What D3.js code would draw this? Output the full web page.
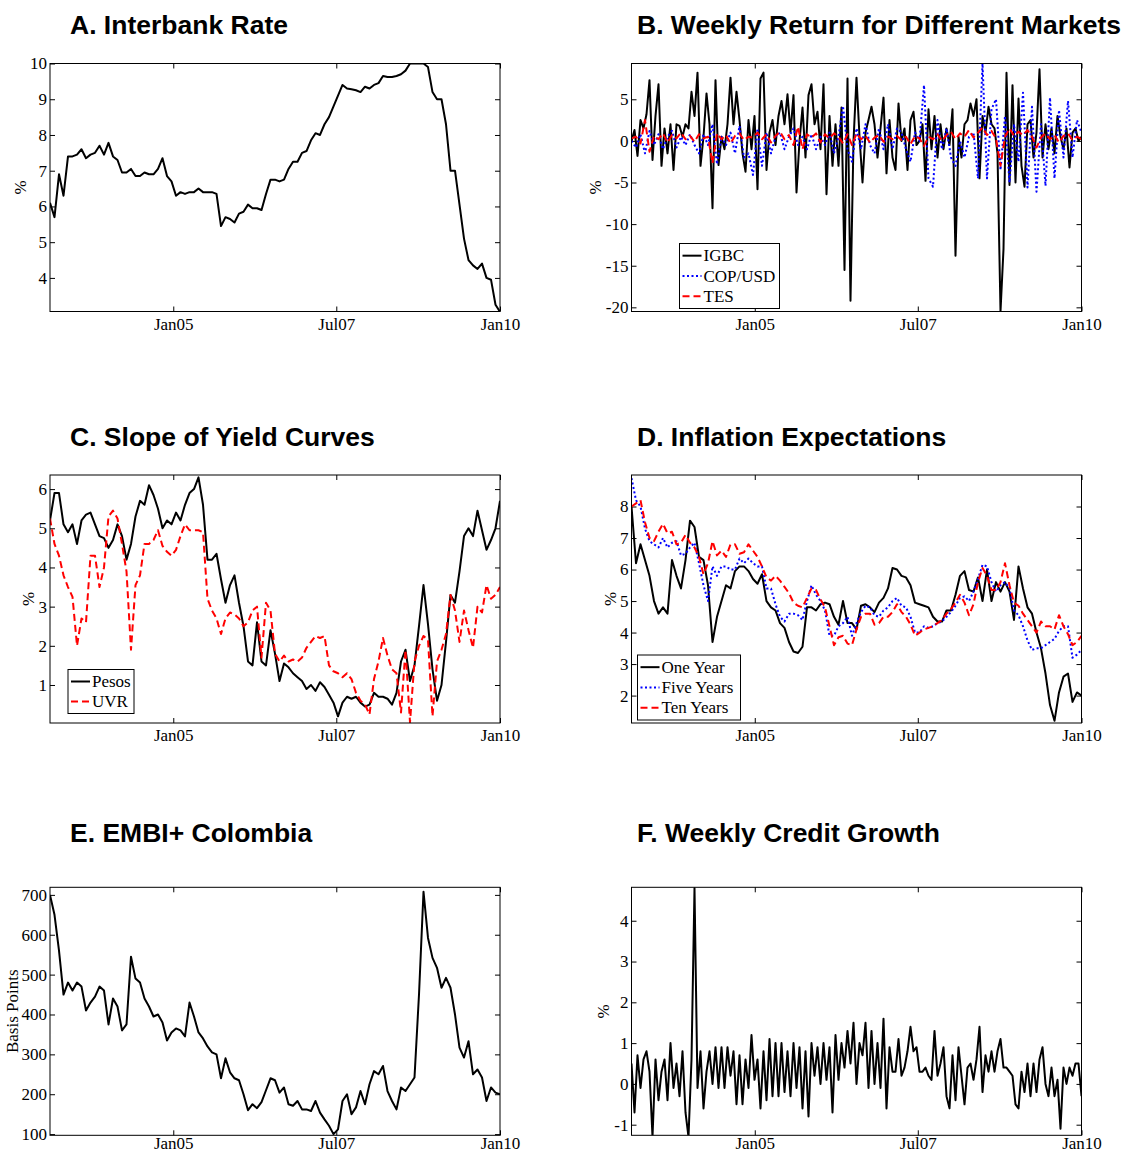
<!DOCTYPE html>
<html>
<head>
<meta charset="utf-8">
<script src="https://cdn.jsdelivr.net/npm/d3@7"></script>
<style>
  body { margin: 0; background: #fff; }
  svg { display: block; }
  .title { font-family: "Liberation Sans", Arial, sans-serif; font-weight: bold; font-size: 26.5px; }
  .lab { font-family: "Liberation Serif", "Times New Roman", serif; font-size: 17px; }
</style>
</head>
<body>
<div id="chart"></div>
<script>
// weekly series, first point at startDate, last at endDate, evenly spaced
var startDate = new Date(2003, 1, 12),
    endDate = new Date(2010, 0, 1);
var dateTicks = [new Date(2005, 0, 1), new Date(2007, 6, 1), new Date(2010, 0, 1)];

// A. Interbank rate (%)
var interbankRate = [6.1,5.7,6.9,6.3,7.4,7.4,7.45,7.6,7.35,7.45,
  7.5,7.7,7.45,7.78,7.4,7.3,6.95,6.95,7.05,6.85,
  6.85,6.95,6.9,6.9,7.05,7.35,6.85,6.7,6.3,6.4,
  6.35,6.4,6.4,6.5,6.4,6.4,6.4,6.35,5.45,5.7,
  5.65,5.55,5.8,5.85,6.05,5.95,5.95,5.9,6.35,6.75,
  6.75,6.7,6.75,7.05,7.25,7.25,7.5,7.55,7.85,8.05,
  8.0,8.3,8.5,8.8,9.1,9.4,9.3,9.28,9.25,9.2,
  9.35,9.3,9.4,9.45,9.65,9.62,9.62,9.65,9.7,9.8,
  10.0,10.0,10.0,10.0,9.9,9.2,9.0,9.0,8.3,7.0,
  7.0,6.05,5.1,4.5,4.35,4.25,4.4,4.0,3.95,3.25,3.05];

// B. Weekly returns (%)
var igbc = [0,1.3,-1.8,2.5,1.5,3.2,7.3,-2.3,3,6.8,
  -3,1.5,-1.5,2,-3.5,2,1.8,0.5,2,1.5,
  5.9,3,8.2,-3,0.5,5.7,2,-8.1,7.3,-2.9,
  0.5,-1,2,7.6,2,5.9,2.5,-1.5,-3.7,2.5,
  -1,3,-5.8,7.5,8.2,-3.5,1,2.5,-0.5,3,
  4.8,2,5.6,1,5.5,-6.2,0,4,-2,5.5,
  6.8,2,3.5,-1,6.8,-6.4,3,-3,2,-3,
  4,-15.5,7.5,-19.2,0,7.6,0.5,-5,1,2.5,
  4.1,2,-2,1.5,5.2,-3.9,2.5,-2,-3.5,4.5,
  0,1.5,-3.5,2.5,3.5,-0.5,0,2,-4.8,3.8,
  -1,3,-2,2,-1,1.5,-0.5,3.8,-13.8,0.5,
  -2,2,2.5,4.5,3,5,-4.5,3,1,4.1,
  2,1.5,-1.5,-20.5,-13,8.2,-5.3,6.7,-5,5.1,
  -3,-5.5,2,2.5,-2,1,8.6,-2,2,-1,
  1.5,-1.5,3,0.5,-1,1.5,-3.2,1,1.5,0,0.5];
var copUsd = [0,-0.8,0.8,-1.5,1.2,-0.5,0.8,-1,0.5,1.2,
  -0.8,0.5,-0.5,0.8,-0.5,-1.5,0.8,-0.5,2,-2.8,
  0.5,-0.5,1,-1.5,1.8,-2,-1.5,-4.1,1.5,-3,
  1,-1.5,0.5,1,-1,0.5,1.5,-0.5,0.5,-1,
  0.8,-1,0.5,-0.5,1,-1.5,0.5,4.2,-1,-2.5,
  1.5,-1,2,-0.5,-1.5,1.5,-1,2,-1,1.5,
  1,-1,-2.5,1,0,6.7,-4.5,-5.5,2.5,-1,
  1.5,-2,-3,0,-2,0.5,1,-4.5,9.3,-4.5,
  3.8,5,-3.5,3,-5,2,-2.5,5.8,-5.6,4.1,
  -6.1,2,-5.4,5.2,-4.5,3.7,-2,4.8,-2,2.5,1];
var tes = [0.3,0.5,-0.3,2.5,-1.3,0.6,0.2,0.9,-0.2,0.7,
  0.3,1.0,0.2,0.6,-0.1,0.8,0.3,0.5,-2.7,0.9,
  0.2,0.7,-0.3,0.6,0.9,0.1,0.5,0.4,1.0,0.2,
  0.8,-0.2,0.6,1.1,0.2,0.7,-0.5,1.7,-1.0,0.8,
  0.4,0.9,-0.2,0.8,0.3,0.9,0.5,-0.3,0.8,-0.5,
  0.9,0.2,0.6,-0.2,0.4,0.7,-0.1,0.5,0.2,0.6,
  0.1,0.5,-0.4,0.6,0.3,-0.6,0.5,0.2,0.8,0.0,
  0.7,1.1,0.2,0.9,0.5,1.3,0.4,1.0,1.6,0.7,
  1.2,0.3,-3.0,0.5,1.5,0.6,1.1,0.7,1.3,0.5,
  -0.8,0.4,0.9,0.2,0.7,-0.2,0.6,0.9,0.1,0.5,0.2];

// C. Slope of yield curves (%)
var pesos = [5.2,5.9,5.9,5.1,4.9,5.1,4.6,5.2,5.35,5.4,
  5.1,4.8,4.75,4.5,4.7,5.1,4.8,4.2,4.6,5.3,
  5.7,5.6,6.1,5.85,5.5,5.0,5.2,5.1,5.4,5.2,
  5.6,5.9,6.0,6.3,5.6,4.2,4.2,4.35,3.7,3.1,
  3.55,3.8,3.1,2.5,1.6,1.5,2.6,1.6,1.5,2.4,
  1.8,1.1,1.55,1.45,1.3,1.2,1.1,0.9,1.0,0.85,
  1.07,0.95,0.75,0.55,0.2,0.55,0.7,0.65,0.7,0.55,
  0.45,0.5,0.8,0.7,0.7,0.65,0.5,0.8,1.6,1.9,
  1.1,1.5,2.5,3.55,2.55,1.4,0.6,1.0,2.1,3.3,
  3.1,3.9,4.8,5.0,4.8,5.45,4.95,4.45,4.7,5.0,5.7];
var uvr = [5.25,4.6,4.3,3.8,3.5,3.25,2.0,2.7,2.6,4.3,
  4.3,3.5,4.0,5.3,5.45,5.25,4.6,3.9,1.9,3.55,
  3.8,4.6,4.6,4.7,4.95,4.55,4.4,4.3,4.45,4.8,
  5.1,4.95,4.95,4.95,4.9,3.2,2.9,2.7,2.3,2.7,
  2.85,2.8,2.7,2.5,2.6,2.9,3.0,1.7,3.1,2.9,
  1.8,1.6,1.75,1.6,1.65,1.6,1.7,1.95,2.1,2.25,
  2.2,2.25,1.5,1.35,1.3,1.2,1.3,1.15,0.8,0.6,
  0.5,0.25,1.15,1.6,2.2,1.75,1.4,1.3,0.3,1.9,
  0.05,1.6,2.0,2.25,2.15,0.2,1.6,1.9,2.3,3.3,
  2.9,2.1,2.9,2.4,1.95,3.0,2.85,3.55,3.2,3.3,3.5];

// D. Inflation expectations (%)
var oneYear = [8.0,6.2,6.8,6.3,5.8,5.0,4.6,4.8,4.6,6.3,
  5.8,5.4,6.3,7.55,7.35,6.4,6.3,5.5,3.7,4.5,
  5.0,5.5,5.4,5.95,6.1,6.1,5.95,5.7,5.55,5.85,
  5.0,4.8,4.7,4.3,4.15,3.7,3.4,3.35,3.55,4.8,
  4.8,4.7,4.9,4.95,4.9,4.5,4.25,5.0,4.3,4.3,
  4.1,4.85,4.9,4.8,4.65,4.95,5.1,5.4,6.05,6.0,
  5.8,5.75,5.5,4.95,4.9,4.85,4.8,4.5,4.35,4.35,
  4.7,4.7,5.2,5.8,5.95,5.35,5.3,5.75,5.0,6.0,
  5.0,5.6,5.3,5.6,5.3,4.4,6.1,5.4,4.8,4.6,
  4.0,3.5,2.7,1.7,1.2,2.1,2.6,2.7,1.8,2.1,2.0];
var fiveYears = [8.9,8.2,8.0,7.3,6.9,6.8,6.7,7.0,6.7,6.85,
  6.9,6.45,6.5,6.7,6.85,6.2,5.5,5.0,6.1,5.8,
  6.1,6.1,6.0,6.0,6.35,6.2,6.35,6.2,6.1,6.1,
  5.4,5.4,4.9,4.5,4.35,4.6,4.6,4.55,4.4,5.0,
  5.5,5.2,5.0,4.7,3.9,3.9,4.2,4.3,4.5,3.9,
  4.3,4.65,4.85,4.8,4.55,4.5,4.7,4.8,5.0,5.1,
  4.85,4.8,4.5,4.0,4.0,4.2,4.15,4.2,4.3,4.35,
  4.5,4.65,4.85,5.1,5.15,5.0,5.3,5.7,6.15,6.1,
  5.6,5.3,5.5,5.6,5.4,4.7,4.55,4.2,3.75,3.45,
  3.5,3.5,3.6,3.7,3.8,4.05,4.2,4.2,3.2,3.3,3.45];
var tenYears = [8.0,8.1,8.2,7.5,7.0,6.9,7.2,7.45,7.15,7.2,
  6.8,6.85,7.1,6.85,6.7,6.4,5.85,6.2,6.9,6.45,
  6.6,6.4,6.8,6.8,6.5,6.55,6.8,6.6,6.4,6.1,
  5.75,5.65,5.8,5.65,5.45,5.25,4.95,4.85,4.8,5.1,
  5.4,5.35,5.05,4.8,4.2,3.6,3.85,3.9,3.65,3.6,
  4.1,4.5,4.6,4.6,4.25,4.3,4.5,4.5,4.65,4.9,
  4.65,4.5,4.25,3.9,4.0,4.1,4.15,4.2,4.3,4.4,
  4.6,4.75,4.95,5.2,4.95,4.55,4.9,5.6,6.05,5.8,
  5.35,5.35,5.6,6.2,5.5,4.95,4.85,4.6,4.4,4.2,
  4.0,4.35,4.2,4.2,4.1,4.55,4.2,3.95,3.6,3.7,3.9];

// E. EMBI+ Colombia (basis points)
var embi = [700,650,560,450,480,460,480,470,410,430,
  445,470,460,375,440,420,360,375,545,490,
  480,440,420,395,400,380,335,355,365,360,
  345,430,395,355,340,320,305,300,240,290,
  255,240,235,200,160,175,165,180,210,240,
  235,204,217,175,171,183,162,162,158,183,
  154,137,121,100,112,183,200,150,167,208,
  175,225,258,250,271,208,183,162,217,208,
  225,242,450,708,592,542,517,467,492,467,
  400,317,292,333,250,262,242,183,217,204,200];

// F. Weekly credit growth (%)
var credit = [0.5,-0.7,0.7,-0.1,0.6,0.8,0.3,-1.3,0.6,-0.4,
  0.3,0.6,-0.4,1.0,-0.1,0.5,-0.3,0.8,-0.7,-1.3,
  0.6,4.8,-0.1,0.8,-0.6,0.3,0.8,0.0,0.9,-0.1,
  0.9,-0.1,0.9,0.2,0.8,-0.5,0.7,-0.5,0.6,-0.1,
  1.2,0.1,0.6,-0.6,0.8,-0.4,1.1,-0.3,1.0,-0.3,
  1.0,-0.2,0.8,-0.3,1.0,-0.1,0.9,-0.6,0.8,-0.8,
  1.0,0.2,0.9,0.0,1.0,0.1,0.9,-0.7,1.2,0.1,
  1.0,0.4,1.3,0.5,1.5,0.0,1.0,0.7,1.5,-0.1,
  1.3,0.0,1.0,-0.1,1.6,-0.6,0.9,0.3,0.3,1.1,
  0.2,0.4,0.8,1.4,0.8,0.9,0.3,0.3,0.4,0.2,
  0.1,1.3,0.2,0.5,0.9,-0.3,-0.6,0.7,-0.4,0.9,
  0.2,-0.5,0.4,0.5,0.1,0.6,1.4,-0.2,0.7,0.3,
  0.8,0.3,0.8,1.1,0.4,0.4,0.3,0.2,-0.5,-0.6,
  0.3,-0.2,0.5,-0.3,0.5,-0.2,0.6,0.9,0.0,-0.3,
  0.4,-0.3,0.1,-1.1,0.4,0.0,0.4,0.2,0.5,0.5,-0.3];

var solid = {color: "#000", dash: null},
    dotted = {color: "#0000ff", dash: "2,2.5"},
    dashed = {color: "#ff0000", dash: "7,4"};

var W = 450, H = 248;

var panels = [
  {title: "A. Interbank Rate", left: 50, top: 63.5, titleX: 70, titleY: 34, yDomain: [3.06, 10],
   yTicks: [4,5,6,7,8,9,10], yLabel: "%", yLabelX: 20, xPad: 6,
   series: [{values: interbankRate, style: solid}]},
  {title: "B. Weekly Return for Different Markets", left: 631.5, top: 63.5, titleX: 637, titleY: 34, yDomain: [-20.5, 9.3],
   yTicks: [-20,-15,-10,-5,0,5], yLabel: "%", yLabelX: 595, xPad: 6,
   series: [{values: igbc, style: solid, name: "IGBC"},
            {values: copUsd, style: dotted, name: "COP/USD"},
            {values: tes, style: dashed, name: "TES"}],
   legend: {x: 48, y: 180, w: 100, h: 65}},
  {title: "C. Slope of Yield Curves", left: 50, top: 475, titleX: 70, titleY: 446, yDomain: [0.03, 6.36],
   yTicks: [1,2,3,4,5,6], yLabel: "%", yLabelX: 28, xPad: 6,
   series: [{values: pesos, style: solid, name: "Pesos"},
            {values: uvr, style: dashed, name: "UVR"}],
   legend: {x: 18, y: 194.5, w: 66, h: 44}},
  {title: "D. Inflation Expectations", left: 631.5, top: 475, titleX: 637, titleY: 446, yDomain: [1.13, 9.0],
   yTicks: [2,3,4,5,6,7,8], yLabel: "%", yLabelX: 610, xPad: 6,
   series: [{values: oneYear, style: solid, name: "One Year"},
            {values: fiveYears, style: dotted, name: "Five Years"},
            {values: tenYears, style: dashed, name: "Ten Years"}],
   legend: {x: 6, y: 180, w: 103, h: 65}},
  {title: "E. EMBI+ Colombia", left: 50, top: 887.3, titleX: 70, titleY: 842, yDomain: [97, 719],
   yTicks: [100,200,300,400,500,600,700], yLabel: "Basis Points", yLabelX: 12, xPad: 2,
   series: [{values: embi, style: solid}]},
  {title: "F. Weekly Credit Growth", left: 631.5, top: 887.3, titleX: 637, titleY: 842, yDomain: [-1.26, 4.82],
   yTicks: [-1,0,1,2,3,4], yLabel: "%", yLabelX: 603, xPad: 2,
   series: [{values: credit, style: solid}]}
];

var svg = d3.select("#chart").append("svg")
    .attr("width", 1125)
    .attr("height", 1153);

function withDates(values) {
  var n = values.length, t0 = +startDate, t1 = +endDate;
  return values.map(function(v, i) {
    return {date: new Date(t0 + i * (t1 - t0) / (n - 1)), value: v};
  });
}

function drawPanel(p, idx) {
  var x = d3.scaleTime().domain([startDate, endDate]).range([0, W]);
  var y = d3.scaleLinear().domain(p.yDomain).range([H, 0]);

  svg.append("text")
      .attr("class", "title")
      .attr("x", p.titleX)
      .attr("y", p.titleY)
      .text(p.title);

  var g = svg.append("g")
      .attr("transform", "translate(" + p.left + "," + p.top + ")");

  g.append("clipPath").attr("id", "clip" + idx)
    .append("rect").attr("width", W).attr("height", H);

  // axes, ticks pointing inward on all four sides
  var left = g.append("g")
      .call(d3.axisLeft(y).tickValues(p.yTicks).tickSize(-5).tickPadding(3).tickSizeOuter(0)
        .tickFormat(d3.format("d")));
  g.append("g")
      .attr("transform", "translate(" + W + ",0)")
      .call(d3.axisRight(y).tickValues(p.yTicks).tickSize(-5).tickSizeOuter(0).tickFormat(""));
  g.append("g")
      .call(d3.axisTop(x).tickValues(dateTicks).tickSize(-5).tickSizeOuter(0).tickFormat(""));
  var bottom = g.append("g")
      .attr("transform", "translate(0," + H + ")")
      .call(d3.axisBottom(x).tickValues(dateTicks).tickSize(-5).tickPadding(p.xPad).tickSizeOuter(0)
        .tickFormat(d3.timeFormat("%b%y")));

  g.selectAll(".domain").remove();
  g.selectAll(".tick line").attr("stroke", "#000");
  [left, bottom].forEach(function(a) {
    a.attr("font-family", null).attr("font-size", null)
      .selectAll("text").attr("class", "lab").attr("fill", "#000");
  });
  // minus signs as plain hyphens, like the original figure
  left.selectAll("text").text(function(d) { return String(d); });

  var line = d3.line()
      .x(function(d) { return x(d.date); })
      .y(function(d) { return y(d.value); });

  var plot = g.append("g").attr("clip-path", "url(#clip" + idx + ")");
  p.series.forEach(function(s) {
    plot.append("path")
        .datum(withDates(s.values))
        .attr("fill", "none")
        .attr("stroke", s.style.color)
        .attr("stroke-width", 2)
        .attr("stroke-linejoin", "round")
        .attr("stroke-dasharray", s.style.dash)
        .attr("d", line);
  });

  g.append("rect")
      .attr("width", W)
      .attr("height", H)
      .attr("fill", "none")
      .attr("stroke", "#000")
      .attr("stroke-width", 1);

  svg.append("text")
      .attr("class", "lab")
      .attr("text-anchor", "middle")
      .attr("transform", "translate(" + p.yLabelX + "," + (p.top + H / 2) + ") rotate(-90)")
      .attr("dy", "0.35em")
      .text(p.yLabel);

  if (p.legend) {
    var lg = g.append("g")
        .attr("transform", "translate(" + p.legend.x + "," + p.legend.y + ")");
    lg.append("rect")
        .attr("width", p.legend.w)
        .attr("height", p.legend.h)
        .attr("fill", "#fff")
        .attr("stroke", "#000");
    var rowH = (p.legend.h - 4) / p.series.length;
    p.series.forEach(function(s, i) {
      var cy = 2 + rowH * (i + 0.5);
      lg.append("line")
          .attr("x1", 3).attr("x2", 22)
          .attr("y1", cy).attr("y2", cy)
          .attr("stroke", s.style.color)
          .attr("stroke-width", 2)
          .attr("stroke-dasharray", s.style.dash);
      lg.append("text")
          .attr("class", "lab")
          .attr("x", 24)
          .attr("y", cy)
          .attr("dy", "0.33em")
          .text(s.name);
    });
  }
}

panels.forEach(drawPanel);
</script>
</body>
</html>
